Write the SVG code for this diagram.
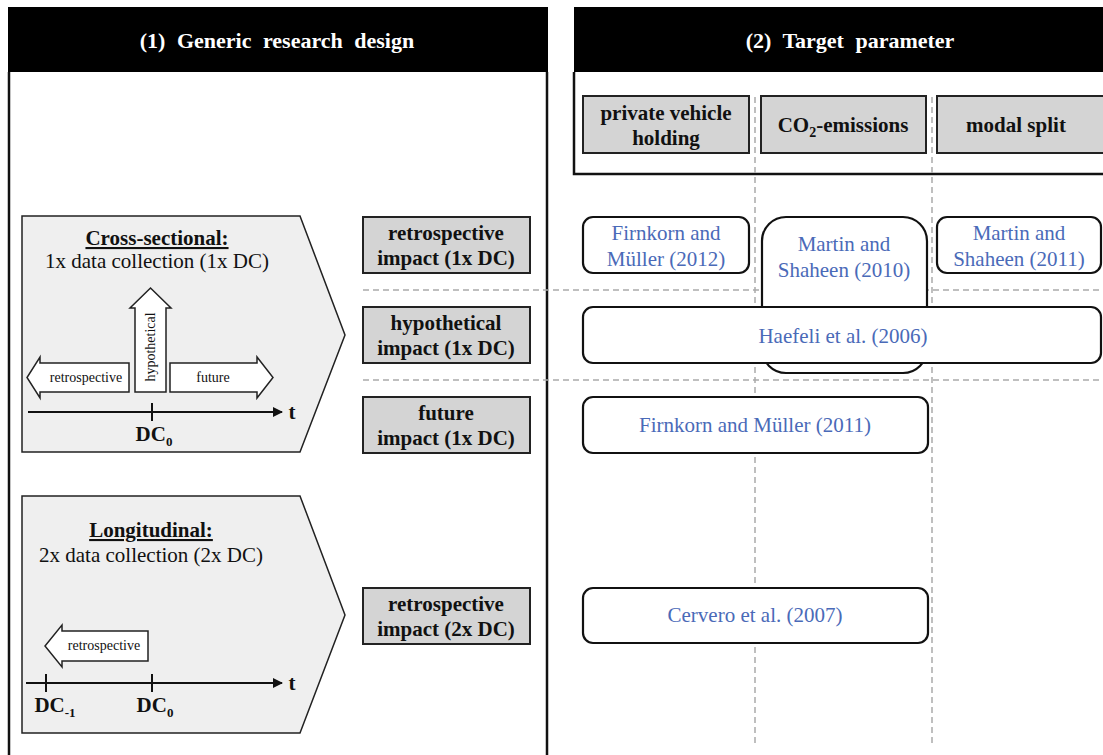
<svg xmlns="http://www.w3.org/2000/svg" width="1103" height="755" viewBox="0 0 1103 755">
<defs>
<style>
text{font-family:"Liberation Serif","Tinos","DejaVu Serif",serif}
.hdr{font-size:22px;font-weight:bold;fill:#fff;text-anchor:middle;word-spacing:6px}
.frame{fill:none;stroke:#111;stroke-width:2.5}
.gbox{fill:#d4d4d4;stroke:#222;stroke-width:2}
.gt{font-size:21px;font-weight:bold;fill:#111;text-anchor:middle}
.ref{fill:#fff;stroke:#111;stroke-width:2.2}
.rt{font-size:21px;fill:#4a6ab8;text-anchor:middle}
.pent{fill:#efefef;stroke:#222;stroke-width:1.5}
.pt{font-size:21px;fill:#111;text-anchor:middle}
.ptb{font-size:21px;font-weight:bold;fill:#111;text-anchor:middle;text-decoration:underline}
.arr{fill:#fff;stroke:#222;stroke-width:1.5}
.at{font-size:14px;fill:#111;text-anchor:middle}
.axis{stroke:#111;stroke-width:2}
.dc{font-size:21px;font-weight:bold;fill:#111;text-anchor:middle}
.dash{stroke:#aaa;stroke-width:1.5;stroke-dasharray:6 4;fill:none}
</style>
<marker id="ah" viewBox="0 0 10 10" refX="9" refY="5" markerWidth="5" markerHeight="5" orient="auto" markerUnits="strokeWidth">
<path d="M0,0 L10,5 L0,10 z" fill="#111"/>
</marker>
</defs>
<rect width="1103" height="755" fill="#fff"/>

<!-- Left panel -->
<g id="panel1">
<rect x="8" y="7" width="540" height="65" fill="#000"/>
<line x1="9" y1="72" x2="9" y2="755" class="frame"/>
<line x1="547" y1="72" x2="547" y2="755" class="frame"/>
<text x="277" y="48" class="hdr">(1) Generic research design</text>
</g>

<!-- Right panel -->
<g id="panel2">
<rect x="574" y="7" width="529" height="65" fill="#000"/>
<path d="M574,72 V174 H1103" class="frame"/>
<text x="850" y="48" class="hdr">(2) Target parameter</text>
</g>

<!-- Grid / connectors -->
<g id="connectors">
<line x1="755" y1="97" x2="755" y2="745" class="dash"/>
<line x1="932" y1="97" x2="932" y2="745" class="dash"/>
<line x1="363" y1="290" x2="1103" y2="290" class="dash"/>
<line x1="363" y1="380" x2="1103" y2="380" class="dash"/>
</g>

<!-- Target parameter headers -->
<g id="tp-private">
<rect x="583" y="96" width="166" height="57" class="gbox"/>
<text x="666" y="120" class="gt">private vehicle</text>
<text x="666" y="145" class="gt">holding</text>
</g>
<g id="tp-co2">
<rect x="761" y="96" width="165" height="57" class="gbox"/>
<text x="843" y="132" class="gt">CO<tspan dy="5" font-size="14">2</tspan><tspan dy="-5">-emissions</tspan></text>
</g>
<g id="tp-modal">
<rect x="937" y="96" width="170" height="57" class="gbox"/>
<text x="1016" y="132" class="gt">modal split</text>
</g>

<!-- Cross-sectional -->
<g id="cross-sectional">
<polygon points="22,216 300,216 345,335 300,452 22,452" class="pent"/>
<text x="157" y="245" class="ptb">Cross-sectional:</text>
<text x="157" y="268" class="pt">1x data collection (1x DC)</text>
<polygon points="135,392 135,308 130,308 150.5,288 171,308 166,308 166,392" class="arr"/>
<text transform="translate(155,347) rotate(-90)" class="at">hypothetical</text>
<polygon points="129,363 40,363 40,357 27,377.5 40,398 40,392 129,392" class="arr"/>
<text x="86" y="382" class="at">retrospective</text>
<polygon points="170,363 257,363 257,357 273,377.5 257,398 257,392 170,392" class="arr"/>
<text x="213" y="382" class="at">future</text>
<line x1="28" y1="412" x2="282" y2="412" class="axis" marker-end="url(#ah)"/>
<line x1="152" y1="403" x2="152" y2="421" class="axis"/>
<text x="292" y="419" class="dc">t</text>
<text x="154" y="441" class="dc">DC<tspan dy="5" font-size="13">0</tspan></text>
</g>

<!-- Longitudinal -->
<g id="longitudinal">
<polygon points="22,496 300,496 345,615 300,733 22,733" class="pent"/>
<text x="151" y="537" class="ptb">Longitudinal:</text>
<text x="151" y="562" class="pt">2x data collection (2x DC)</text>
<polygon points="148,631 62,631 62,625 45,646 62,667 62,661 148,661" class="arr"/>
<text x="104" y="650" class="at">retrospective</text>
<line x1="26" y1="683" x2="282" y2="683" class="axis" marker-end="url(#ah)"/>
<line x1="46" y1="674" x2="46" y2="692" class="axis"/>
<line x1="152" y1="674" x2="152" y2="692" class="axis"/>
<text x="292" y="690" class="dc">t</text>
<text x="55" y="712" class="dc">DC<tspan dy="5" font-size="13">-1</tspan></text>
<text x="155" y="712" class="dc">DC<tspan dy="5" font-size="13">0</tspan></text>
</g>

<!-- Impact types -->
<g id="imp-retro1">
<rect x="363" y="217" width="167" height="56" class="gbox"/>
<text x="446" y="240" class="gt">retrospective</text>
<text x="446" y="265" class="gt">impact (1x DC)</text>
</g>
<g id="imp-hypo">
<rect x="363" y="307" width="167" height="56" class="gbox"/>
<text x="446" y="330" class="gt">hypothetical</text>
<text x="446" y="355" class="gt">impact (1x DC)</text>
</g>
<g id="imp-future">
<rect x="363" y="397" width="167" height="56" class="gbox"/>
<text x="446" y="420" class="gt">future</text>
<text x="446" y="445" class="gt">impact (1x DC)</text>
</g>
<g id="imp-retro2">
<rect x="363" y="588" width="167" height="56" class="gbox"/>
<text x="446" y="611" class="gt">retrospective</text>
<text x="446" y="636" class="gt">impact (2x DC)</text>
</g>

<!-- References -->
<g id="ref-firnkorn2012">
<rect x="583" y="217" width="166" height="56" rx="10" class="ref"/>
<text x="666" y="240" class="rt">Firnkorn and</text>
<text x="666" y="266" class="rt">Müller (2012)</text>
</g>
<g id="ref-martin2010">
<rect x="762" y="217" width="165" height="156" rx="24" class="ref"/>
<text x="844" y="251" class="rt">Martin and</text>
<text x="844" y="277" class="rt">Shaheen (2010)</text>
</g>
<g id="ref-martin2011">
<rect x="937" y="217" width="164" height="56" rx="10" class="ref"/>
<text x="1019" y="240" class="rt">Martin and</text>
<text x="1019" y="266" class="rt">Shaheen (2011)</text>
</g>
<g id="ref-haefeli2006">
<rect x="583" y="307" width="518" height="56" rx="10" class="ref"/>
<text x="843" y="343" class="rt">Haefeli et al. (2006)</text>
</g>
<g id="ref-firnkorn2011">
<rect x="583" y="397" width="345" height="56" rx="10" class="ref"/>
<text x="755" y="432" class="rt">Firnkorn and Müller (2011)</text>
</g>
<g id="ref-cervero2007">
<rect x="583" y="588" width="345" height="55" rx="10" class="ref"/>
<text x="755" y="622" class="rt">Cervero et al. (2007)</text>
</g>
</svg>
